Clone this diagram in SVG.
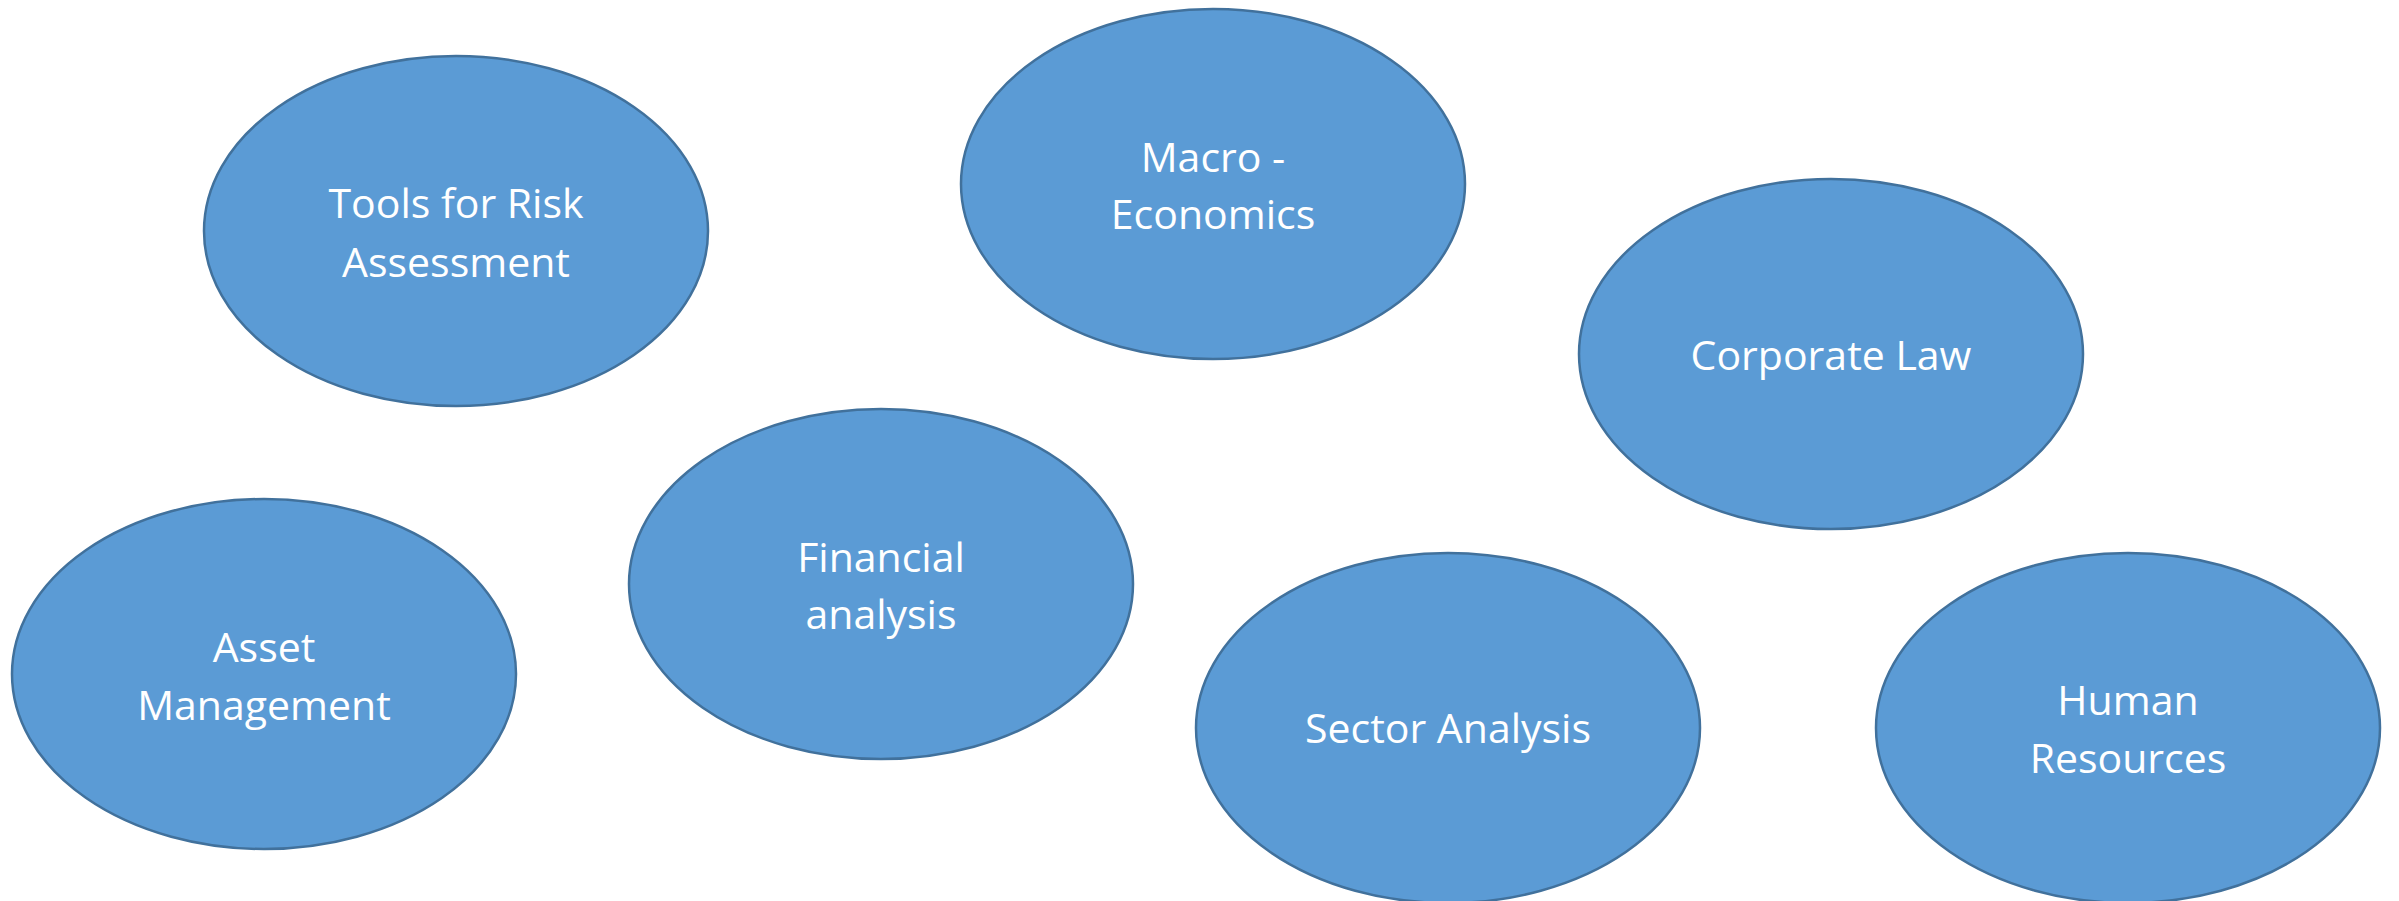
<svg xmlns="http://www.w3.org/2000/svg" width="2399" height="901" viewBox="0 0 2399 901">
<style>
.n{fill:#5B9BD5;stroke:#41719C;stroke-width:2.5}
.t{font-family:"Open Sans","Liberation Sans",sans-serif;font-size:41px;fill:#FFFFFF;text-anchor:middle}
</style>
<rect width="2399" height="901" fill="#FFFFFF"/>
<g id="connectors"></g>
<g id="tools-risk">
<ellipse class="n" cx="456" cy="231" rx="252" ry="175"/>
<text class="t" x="456" y="218">Tools for Risk</text>
<text class="t" x="456" y="277">Assessment</text>
</g>
<g id="macro-economics">
<ellipse class="n" cx="1213" cy="184" rx="252" ry="175"/>
<text class="t" x="1213" y="172">Macro -</text>
<text class="t" x="1213" y="229">Economics</text>
</g>
<g id="corporate-law">
<ellipse class="n" cx="1831" cy="354" rx="252" ry="175"/>
<text class="t" x="1831" y="370">Corporate Law</text>
</g>
<g id="financial-analysis">
<ellipse class="n" cx="881" cy="584" rx="252" ry="175"/>
<text class="t" x="881" y="572">Financial</text>
<text class="t" x="881" y="629">analysis</text>
</g>
<g id="asset-management">
<ellipse class="n" cx="264" cy="674" rx="252" ry="175"/>
<text class="t" x="264" y="662">Asset</text>
<text class="t" x="264" y="720">Management</text>
</g>
<g id="sector-analysis">
<ellipse class="n" cx="1448" cy="728" rx="252" ry="175"/>
<text class="t" x="1448" y="743">Sector Analysis</text>
</g>
<g id="human-resources">
<ellipse class="n" cx="2128" cy="728" rx="252" ry="175"/>
<text class="t" x="2128" y="715">Human</text>
<text class="t" x="2128" y="773">Resources</text>
</g>
</svg>
